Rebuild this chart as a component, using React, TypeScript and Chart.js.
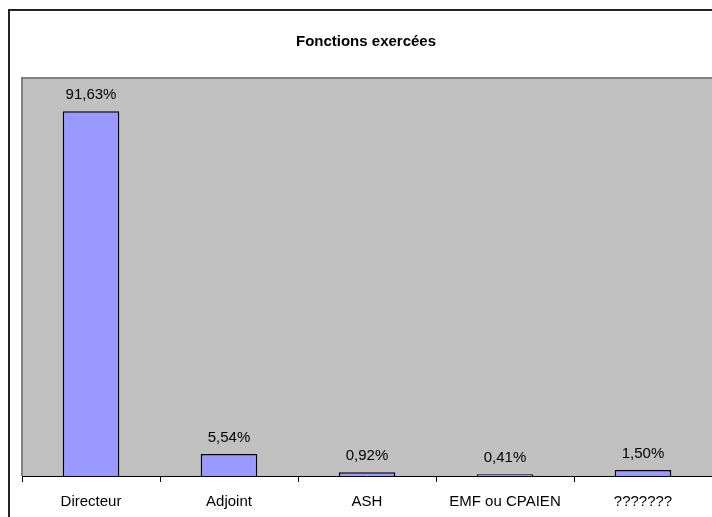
import React, { useEffect, useRef } from "react";
import { Chart, registerables } from "chart.js";

Chart.register(...registerables);

const categories = ["Directeur", "Adjoint", "ASH", "EMF ou CPAIEN", "???????"];
const percentages = [91.63, 5.54, 0.92, 0.41, 1.5];
const chartTitle = "Fonctions exercées";

const FONT = "'Liberation Sans', Arial, sans-serif";

const formatPct = (v: number) => v.toFixed(2).replace(".", ",") + "%";

// Paints the white page, the outer frame, the grey plot area and the title.
const backdropPlugin = {
  id: "backdrop",
  beforeDraw(chart: any) {
    const { ctx, chartArea, width, height } = chart;
    ctx.save();
    ctx.fillStyle = "#ffffff";
    ctx.fillRect(0, 0, width, height);

    // outer frame (left and top edges)
    ctx.strokeStyle = "#222222";
    ctx.lineWidth = 2;
    ctx.beginPath();
    ctx.moveTo(9, height);
    ctx.lineTo(9, 10);
    ctx.lineTo(width, 10);
    ctx.stroke();

    // plot area
    ctx.fillStyle = "#c0c0c0";
    ctx.fillRect(chartArea.left, chartArea.top, chartArea.right - chartArea.left, chartArea.bottom - chartArea.top);
    ctx.strokeStyle = "#808080";
    ctx.lineWidth = 2;
    ctx.beginPath();
    ctx.moveTo(chartArea.left, chartArea.bottom);
    ctx.lineTo(chartArea.left, chartArea.top);
    ctx.lineTo(chartArea.right, chartArea.top);
    ctx.stroke();

    // title
    ctx.fillStyle = "#000000";
    ctx.font = `bold 15px ${FONT}`;
    ctx.textAlign = "center";
    ctx.textBaseline = "middle";
    ctx.fillText(chartTitle, 366, 42);
    ctx.restore();
  },
};

// Writes each bar's percentage above it.
const valueLabelPlugin = {
  id: "valueLabels",
  afterDatasetsDraw(chart: any) {
    const { ctx } = chart;
    const meta = chart.getDatasetMeta(0);
    ctx.save();
    ctx.fillStyle = "#000000";
    ctx.font = `15px ${FONT}`;
    ctx.textAlign = "center";
    ctx.textBaseline = "alphabetic";
    meta.data.forEach((bar: any, i: number) => {
      ctx.fillText(formatPct(percentages[i]), bar.x, bar.y - 12);
    });
    ctx.restore();
  },
};

export default function App() {
  const canvasRef = useRef<HTMLCanvasElement>(null);

  useEffect(() => {
    if (!canvasRef.current) return;
    const chart = new Chart(canvasRef.current, {
      type: "bar",
      data: {
        labels: categories,
        datasets: [
          {
            data: percentages,
            backgroundColor: "#9999ff",
            borderColor: "#000000",
            borderWidth: 1.5,
            categoryPercentage: 1,
            barPercentage: 0.41,
          },
        ],
      },
      options: {
        responsive: false,
        animation: false,
        layout: { padding: { left: 22, top: 78, right: 0, bottom: 0 } },
        plugins: {
          legend: { display: false },
          title: { display: false },
          tooltip: { enabled: false },
        },
        scales: {
          y: { display: false, min: 0, max: 100 },
          x: {
            offset: true,
            afterFit: (scale: any) => {
              scale.height = 41;
            },
            grid: {
              display: true,
              offset: true,
              drawOnChartArea: false,
              drawTicks: true,
              tickLength: 6,
              color: "#000000",
            },
            border: { display: true, color: "#000000", width: 1 },
            ticks: {
              color: "#000000",
              font: { family: FONT, size: 15 },
              padding: 11,
              maxRotation: 0,
              autoSkip: false,
            },
          },
        },
      },
      plugins: [backdropPlugin, valueLabelPlugin],
    });
    return () => chart.destroy();
  }, []);

  return (
    <div style={{ position: "fixed", left: 0, top: 0, width: 712, height: 517, background: "#fff" }}>
      <canvas ref={canvasRef} width={712} height={517} style={{ display: "block" }} />
    </div>
  );
}
